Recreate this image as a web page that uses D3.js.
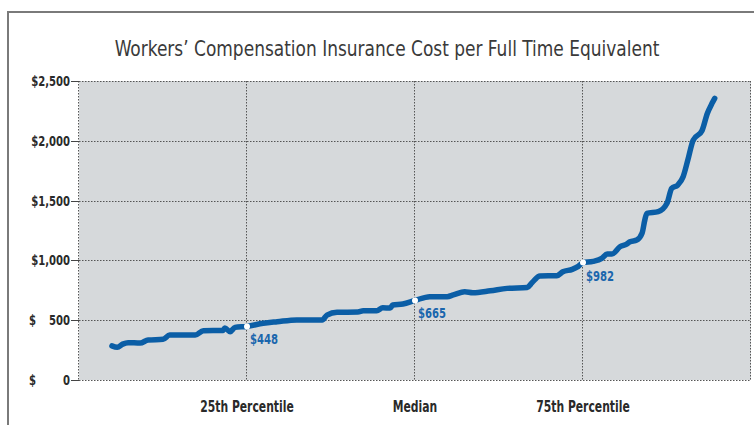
<!DOCTYPE html>
<html>

<head>
    <meta charset="utf-8">
    <title>Workers' Compensation Insurance Cost per FTE</title>
    <script type="text/javascript" src="https://d3js.org/d3.v7.min.js"></script>
    <style>
        body {
            margin: 0;
            background: #fff;
        }

        svg {
            display: block;
        }

        .narrow {
            font-family: "Liberation Sans Narrow", "DejaVu Sans Condensed", sans-serif;
        }
    </style>
</head>

<body>
</body>

<script type="text/javascript">
    //Width and height
    var w = 754;
    var h = 425;

    //Data: percentile position and cost per FTE
    var pctl = [4.9, 5.7, 6.5, 7.3, 9.1, 10.3, 12.5, 13.5, 17.3, 18.5, 21.4, 21.7, 22.5, 23.2, 25.0,
        27.4, 29.5, 32.4, 36.2, 36.9, 38.4, 41.5, 42.3, 44.3, 45.2, 46.3, 46.7, 48.2, 50.0,
        52.2, 54.8, 55.7, 57.4, 58.6, 61.2, 63.7, 66.7, 67.4, 68.6, 71.1, 72.0, 73.4, 74.3, 75.0,
        76.5, 77.8, 78.6, 79.3, 80.5, 81.5, 82.0, 83.0, 83.8, 84.2, 84.5, 86.2, 87.5, 88.2,
        89.1, 89.9, 90.6, 91.4, 92.7, 93.5, 94.2, 94.6];
    var cost = [285, 273, 300, 312, 309, 335, 340, 376, 376, 412, 414, 435, 404, 440, 448,
        474, 487, 502, 502, 543, 566, 568, 579, 579, 604, 602, 627, 635, 665,
        697, 697, 711, 738, 730, 746, 766, 774, 813, 870, 872, 905, 925, 950, 982,
        992, 1017, 1053, 1053, 1114, 1137, 1156, 1170, 1229, 1338, 1393, 1407, 1477, 1602,
        1630, 1700, 1839, 2006, 2084, 2229, 2313, 2355];

    //Marked percentiles
    var markPctl = [25, 50, 75];
    var markLabels = ["25th Percentile", "Median", "75th Percentile"];
    var markValues = [448, 665, 982];

    var yTicks = [0, 500, 1000, 1500, 2000, 2500];

    var title = "Workers\u2019 Compensation Insurance Cost per Full Time Equivalent";

    var margin = { top: 81, right: 3, bottom: 45, left: 79 };

    //The fonts on hand are wider than the original condensed face,
    //so squeeze text horizontally inside a group
    function condText(parent, px, py, str, anchor, sx) {
        return parent.append("g")
            .attr("transform", "translate(" + px + "," + py + ") scale(" + (sx || 0.8) + ",1)")
            .append("text")
            .attr("class", "narrow")
            .attr("text-anchor", anchor || "start")
            .text(str);
    }

    var svg = d3.select("body")
        .append("svg")
        .attr("width", w)
        .attr("height", h);

    //Outer frame (left and top edges show)
    svg.append("path")
        .attr("d", "M8," + h + " V12 H" + (w + 5))
        .attr("fill", "none")
        .attr("stroke", "#7a7a7a")
        .attr("stroke-width", 2);

    //Title
    condText(svg, 387, 56, title, "middle", 0.86)
        .style("font-size", "22px")
        .style("fill", "#3a3a3a");

    var x = d3.scaleLinear()
        .domain([0, 100])
        .range([margin.left, w - margin.right]);

    var y = d3.scaleLinear()
        .domain([0, 2500])
        .range([h - margin.bottom, margin.top]);

    //Plot background
    svg.append("rect")
        .attr("x", x(0))
        .attr("y", y(2500))
        .attr("width", x(100) - x(0))
        .attr("height", y(0) - y(2500))
        .attr("fill", "#d6d9db");

    //Horizontal grid
    svg.selectAll(".hgrid")
        .data(yTicks)
        .enter()
        .append("line")
        .attr("class", "hgrid")
        .attr("x1", x(0))
        .attr("x2", x(100))
        .attr("y1", function(d) { return Math.round(y(d)) + 0.5; })
        .attr("y2", function(d) { return Math.round(y(d)) + 0.5; })
        .attr("stroke", "#555")
        .attr("stroke-width", 1)
        .attr("stroke-dasharray", "1.5,1.5");

    //Vertical grid
    svg.selectAll(".vgrid")
        .data([0].concat(markPctl).concat([100]))
        .enter()
        .append("line")
        .attr("class", "vgrid")
        .attr("x1", function(d) { return Math.round(x(d)) - 0.5; })
        .attr("x2", function(d) { return Math.round(x(d)) - 0.5; })
        .attr("y1", y(2500))
        .attr("y2", y(0))
        .attr("stroke", "#555")
        .attr("stroke-width", 1)
        .attr("stroke-dasharray", "1.5,1.5");

    //Y axis tick marks
    svg.selectAll(".ytick")
        .data(yTicks)
        .enter()
        .append("line")
        .attr("class", "ytick")
        .attr("x1", x(0) - 8)
        .attr("x2", x(0))
        .attr("y1", function(d) { return Math.round(y(d)) + 0.5; })
        .attr("y2", function(d) { return Math.round(y(d)) + 0.5; })
        .attr("stroke", "#444")
        .attr("stroke-width", 1);

    //Y axis labels: big values as a single string, small ones with a separate "$"
    var fmt = d3.format(",");
    yTicks.forEach(function(d) {
        var label = d >= 1000 ? "$" + fmt(d) : fmt(d);
        condText(svg, x(0) - 9, y(d) + 5, label, "end")
            .style("font-size", "14px")
            .style("font-weight", "bold")
            .style("fill", "#2a2a2a");
        if (d < 1000) {
            condText(svg, 29, y(d) + 5, "$")
                .style("font-size", "14px")
                .style("font-weight", "bold")
                .style("fill", "#2a2a2a");
        }
    });

    //The cost line
    var line = d3.line()
        .x(function(d, i) { return x(pctl[i]); })
        .y(function(d) { return y(d); })
        .curve(d3.curveMonotoneX);

    svg.append("path")
        .datum(cost)
        .attr("d", line)
        .attr("fill", "none")
        .attr("stroke", "#0b5ea6")
        .attr("stroke-width", 5.5)
        .attr("stroke-linejoin", "round")
        .attr("stroke-linecap", "round");

    //Percentile markers
    svg.selectAll(".dot")
        .data(markValues)
        .enter()
        .append("circle")
        .attr("class", "dot")
        .attr("cx", function(d, i) { return x(markPctl[i]); })
        .attr("cy", function(d) { return y(d); })
        .attr("r", 3)
        .attr("fill", "#fff");

    markValues.forEach(function(d, i) {
        condText(svg, x(markPctl[i]) + 3, y(d) + 18, "$" + d)
            .style("font-size", "14px")
            .style("font-weight", "bold")
            .style("fill", "#1a66ad");
    });

    //X labels
    markLabels.forEach(function(d, i) {
        condText(svg, x(markPctl[i]), 412, d, "middle")
            .style("font-size", "15px")
            .style("font-weight", "bold")
            .style("fill", "#2a2a2a");
    });
</script>

</html>
